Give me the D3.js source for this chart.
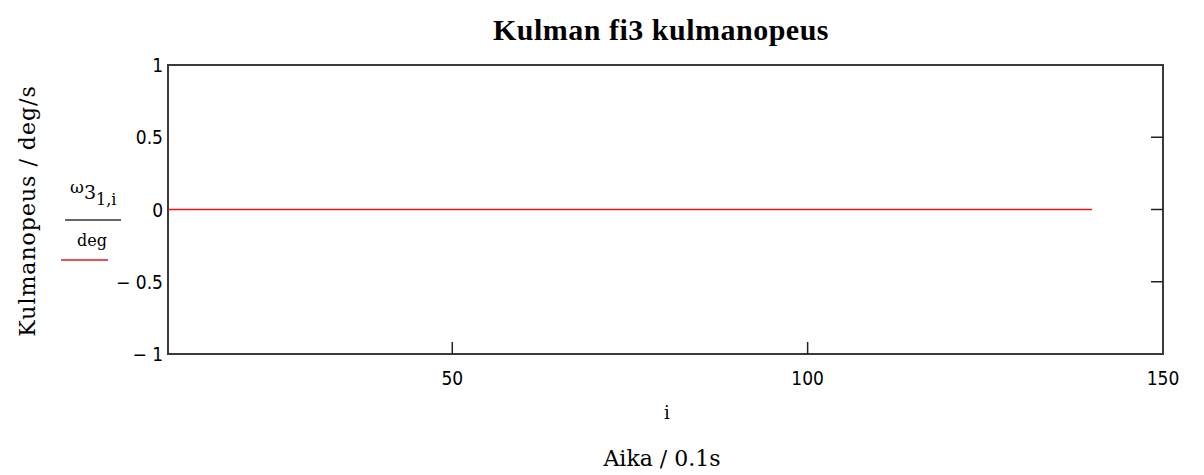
<!DOCTYPE html>
<html lang="fi">
<head>
<meta charset="UTF-8">
<title>Kulman fi3 kulmanopeus</title>
<script src="https://d3js.org/d3.v7.min.js"></script>
<style>
  body { margin: 0; background: #fff; }
  svg text { fill: #000; }
  .tick-label { font-family: "DejaVu Sans Condensed", "DejaVu Sans", sans-serif; font-size: 19px; }
  .serif { font-family: "DejaVu Serif", serif; }
</style>
</head>
<body>
<svg width="1204" height="475"></svg>
<script>
// time index i and the plotted value (omega3 / deg), flat zero
const steps = d3.range(10, 141);
const omega = steps.map(() => 0);
const xTicks = [50, 100, 150];
const yTicks = [-1, -0.5, 0, 0.5, 1];

const margin = { top: 65, right: 41, bottom: 121, left: 168 };
const width = 1204 - margin.left - margin.right,
      height = 475 - margin.top - margin.bottom;

const svg = d3.select('svg');
const g = svg.append('g').attr('transform', `translate(${margin.left},${margin.top})`);

const x = d3.scaleLinear().domain([10, 150]).range([0, width]);
const y = d3.scaleLinear().domain([-1, 1]).range([height, 0]);

// frame
g.append('rect')
  .attr('width', width).attr('height', height)
  .attr('fill', 'none').attr('stroke', '#3a3a3a').attr('stroke-width', 2);

// inward ticks: bottom and right
g.selectAll('.xt').data(xTicks.filter(d => d < 150)).enter().append('line')
  .attr('x1', d => x(d)).attr('x2', d => x(d))
  .attr('y1', height).attr('y2', height - 12)
  .attr('stroke', '#222').attr('stroke-width', 1.5);
g.selectAll('.yt').data(yTicks.filter(d => d > -1 && d < 1)).enter().append('line')
  .attr('x1', width).attr('x2', width - 12)
  .attr('y1', d => y(d)).attr('y2', d => y(d))
  .attr('stroke', '#222').attr('stroke-width', 1.5);

// tick labels
g.selectAll('.xl').data(xTicks).enter().append('text')
  .attr('class', 'tick-label')
  .attr('x', d => x(d)).attr('y', height + 31)
  .attr('text-anchor', 'middle')
  .text(d => d);
const fmtY = d => d < 0 ? '\u2212 ' + String(-d) : String(d);
g.selectAll('.yl').data(yTicks).enter().append('text')
  .attr('class', 'tick-label')
  .attr('x', -5).attr('y', d => y(d) + 7)
  .attr('text-anchor', 'end')
  .text(fmtY);

// the series
const line = d3.line().x((d, k) => x(steps[k])).y(d => y(d));
g.append('path').datum(omega)
  .attr('fill', 'none').attr('stroke', '#e8141b').attr('stroke-width', 1.5)
  .attr('d', line);

// title
svg.append('text')
  .attr('x', 661).attr('y', 40)
  .attr('text-anchor', 'middle')
  .style('font-family', '"Liberation Serif", serif')
  .style('font-weight', 'bold').style('font-size', '30px')
  .style('letter-spacing', '0.5px')
  .text('Kulman fi3 kulmanopeus');

// axis labels
svg.append('text').attr('class', 'serif')
  .attr('x', 667).attr('y', 419).attr('text-anchor', 'middle')
  .style('font-size', '18px').text('i');
svg.append('text').attr('class', 'serif')
  .attr('x', 662).attr('y', 466).attr('text-anchor', 'middle')
  .style('font-size', '22px').text('Aika / 0.1s');
svg.append('text').attr('class', 'serif')
  .attr('transform', 'translate(35,211) rotate(-90)')
  .attr('text-anchor', 'middle')
  .style('font-size', '22px').style('letter-spacing', '1px')
  .text('Kulmanopeus / deg/s');

// legend: omega3_{1,i} / deg with red sample line
const leg = svg.append('g');
const lt = leg.append('text').attr('class', 'serif').attr('x', 70).attr('y', 193).style('font-size', '17px');
lt.append('tspan').text('\u03c9');
lt.append('tspan').attr('dy', 6).style('font-size', '19px').text('3');
lt.append('tspan').attr('dy', 6).style('font-size', '16px').text('1,i');
leg.append('line').attr('x1', 65).attr('x2', 121).attr('y1', 220).attr('y2', 220)
  .attr('stroke', '#333').attr('stroke-width', 1.5);
leg.append('text').attr('class', 'serif').attr('x', 92).attr('y', 246)
  .attr('text-anchor', 'middle').style('font-size', '16px').text('deg');
leg.append('line').attr('x1', 61).attr('x2', 108).attr('y1', 260).attr('y2', 260)
  .attr('stroke', '#e8141b').attr('stroke-width', 1.5);
</script>
</body>
</html>
